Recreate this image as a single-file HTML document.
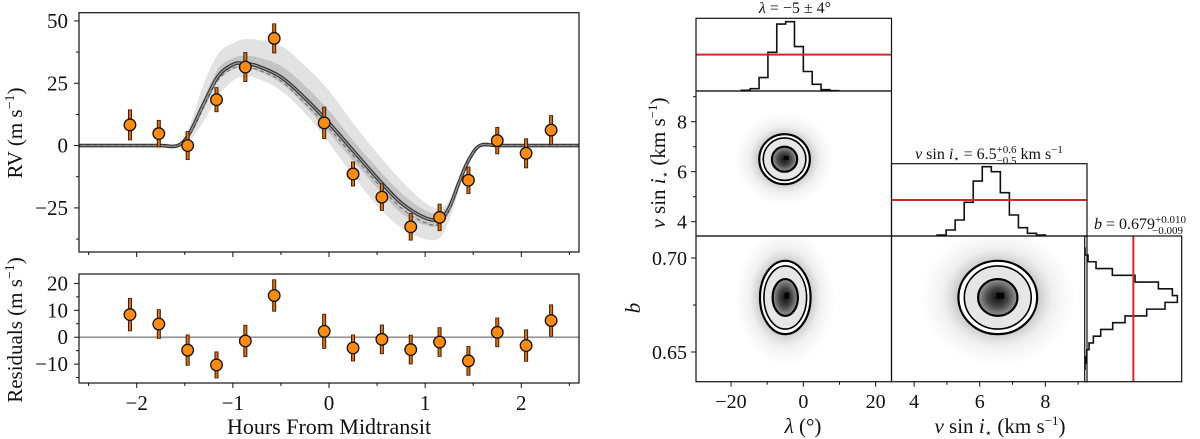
<!DOCTYPE html>
<html><head><meta charset="utf-8"><style>
body{margin:0;background:#fff}
svg{display:block;font-family:"Liberation Serif",serif}
</style></head><body>
<svg id="s" width="1200" height="439" viewBox="0 0 1200 439">
<defs>
<radialGradient id="cloud"><stop offset="0" stop-color="#333" stop-opacity="0.8"/><stop offset="0.45" stop-color="#666" stop-opacity="0.45"/><stop offset="0.7" stop-color="#999" stop-opacity="0.15"/><stop offset="1" stop-color="#bbb" stop-opacity="0"/></radialGradient>
<radialGradient id="core"><stop offset="0" stop-color="#111"/><stop offset="0.5" stop-color="#444"/><stop offset="1" stop-color="#999"/></radialGradient>
</defs>
</svg>
<script>
// ---- RV data ----
const obsHours=[-2.07,-1.77,-1.47,-1.17,-0.87,-0.57,-0.05,0.25,0.55,0.85,1.15,1.45,1.75,2.05,2.31];
const obsRV=[8.3,4.8,0,18.4,31.5,43,9.1,-11.4,-20.7,-32.6,-28.8,-13.9,2.0,-3.1,6.2];
const obsErr=[6.2,5.5,5.8,5.0,6.0,6.0,6.5,5.0,5.5,5.5,5.5,5.5,5.5,6.0,6.0];
const resid=[8.4,4.9,-4.8,-10.3,-1.4,15.5,2.2,-4.0,-0.8,-4.6,-1.8,-8.8,1.8,-3.1,6.2];
const modelH=[-2.6,-2.0,-1.75,-1.57,-1.45,-1.3,-1.15,-1.0,-0.9,-0.75,-0.5,-0.25,0,0.25,0.5,0.75,1.0,1.15,1.25,1.35,1.45,1.57,1.75,2.0,2.6];
const modelV=[0,0,0,0,5,17,28,32.5,33,32,27.5,19,9,-2,-13,-23,-29,-29.5,-25,-15,-6,0,0,0,0];
const dashV=[0,0,0,0,4.5,16,26.5,31,31.5,30.5,26,17,7,-4,-15,-25,-31,-31.5,-26,-15.5,-6,0,0,0,0];
const outerUp=[0,0,0,0,8,25,37,41,42.5,42.5,40,32,22,9,-3,-14,-23,-25,-22,-13,-5,0,0,0,0];
const outerLo=[0,0,0,0,2,10,20,26,27.5,27,22,13,1,-12,-24,-33,-37.5,-37,-30,-18,-7,0,0,0,0];
const innerUp=[0,0,0,0,6,19,31,35,36,35.5,32,24,14,2,-9,-19,-26,-27,-23,-14,-5.5,0,0,0,0];
const innerLo=[0,0,0,0,4,15,26,30.5,31,30,25,16,5,-6,-17,-27,-32,-32,-27,-16,-6.5,0,0,0,0];
const xTicks=[-2,-1,0,1,2];
const rvTicks=[-25,0,25,50];
const resTicks=[-10,0,10,20];
// ---- corner data ----
const lamEdge0=-17.15, lamBinW=2.45;
const lamCounts=[2,7,40,115,199,206,132,58,20,4,1];
const lamRef=108;
const vsEdge0=4.70, vsBinW=0.2755;
const vsCounts=[3,18,48,101,165,208,193,130,63,25,8,3];
const vsRef=108;
const bEdgeTop=0.7052, bBinW=0.0036;
const bCounts=[1,10,34,83,151,221,263,278,241,186,121,84,48,26,13,6,3,1];
const bRef=146;
const lamCenter=-5.2, vsCenter=6.5, bCenter=0.679;
const lamSig=[7.0,5.9,3.5], vsSig=[1.0,0.85,0.5], bSig=[0.0195,0.0168,0.0098];
const lamTicks=[-20,0,20], vsTicks=[4,6,8], bTicks=[0.65,0.70];

const S=document.getElementById('s');
const NS='http://www.w3.org/2000/svg';
function mk(tag,attrs,parent){const e=document.createElementNS(NS,tag);for(const k in attrs)e.setAttribute(k,attrs[k]);(parent||S).appendChild(e);return e;}
function txt(x,y,str,size,anchor,parent,rot){const e=mk('text',{x:x,y:y,'font-size':size,'text-anchor':anchor||'middle',fill:'#111'},parent);if(rot)e.setAttribute('transform','rotate(-90 '+x+' '+y+')');e.innerHTML=str;return e;}
function smooth(pts){let d='M'+pts[0][0]+','+pts[0][1];for(let i=0;i<pts.length-1;i++){const p0=pts[i-1]||pts[i],p1=pts[i],p2=pts[i+1],p3=pts[i+2]||p2;const c1=[p1[0]+(p2[0]-p0[0])/6,p1[1]+(p2[1]-p0[1])/6],c2=[p2[0]-(p3[0]-p1[0])/6,p2[1]-(p3[1]-p1[1])/6];d+='C'+c1+' '+c2+' '+p2;}return d;}

const hx=h=>79+(h+2.6)/5.2*500;
const ry=v=>12.7+(53.3-v)*2.493;
const sy=v=>274+(23.5-v)*2.69;
const lamX=v=>696+(v+29.7)*3.614;
const vsX=v=>891.5+(v-3.31)*32.8;
const vsY=v=>121.7-(v-8)*25;
const bY=v=>258-(v-0.70)*1880;

// ---- top RV panel ----
const gTop=mk('g',{});

function band(up,lo,fill,name){const a=modelH.map((h,i)=>[hx(h),ry(up[i])]);const b=modelH.map((h,i)=>[hx(h),ry(lo[i])]).reverse();const d=smooth(a)+'L'+b[0]+smooth(b).slice(1).replace(/^[^C]*/,'')+'Z';const p=mk('path',{d:d,fill:fill},gTop);}
band(outerUp,outerLo,'#e2e2e2','outer-band');
band(innerUp,innerLo,'#c4c4c4','inner-band');
const mpts=modelH.map((h,i)=>[hx(h),ry(modelV[i])]);
let ml=mk('path',{d:smooth(mpts),fill:'none',stroke:'#333','stroke-width':3.6},gTop);

mk('path',{d:smooth(mpts),fill:'none',stroke:'#999','stroke-width':1.3},gTop);
let dl=mk('path',{d:smooth(modelH.map((h,i)=>[hx(h),ry(dashV[i])])),fill:'none',stroke:'#777','stroke-width':1.2,'stroke-dasharray':'4,3'},gTop);

function points(vals,yf,g,name){vals.forEach((v,i)=>{const x=hx(obsHours[i]);mk('line',{x1:x,x2:x,y1:yf(v+obsErr[i]),y2:yf(v-obsErr[i]),stroke:'#3a1a00','stroke-width':4},g);mk('line',{x1:x,x2:x,y1:yf(v+obsErr[i])+0.8,y2:yf(v-obsErr[i])-0.8,stroke:'#e0700a','stroke-width':2},g);const c=mk('circle',{cx:x,cy:yf(v),r:5.8,fill:'#ff8c0f',stroke:'#111','stroke-width':1.3},g);});}
points(obsRV,ry,gTop,'rv-point');
mk('rect',{x:79,y:12.7,width:500,height:239.3,fill:'none',stroke:'#111','stroke-width':1.2},gTop);
function xAxis(y0,g,labels){for(let h=-2.5;h<=2.51;h+=0.5){const x=hx(h);const maj=Math.abs(h-Math.round(h))<0.01;mk('line',{x1:x,x2:x,y1:y0,y2:y0+(maj?5:3),stroke:'#111','stroke-width':1},g);}if(labels)xTicks.forEach(t=>{txt(hx(t),410,t<0?'−'+(-t):''+t,21,'middle',g);});}
xAxis(252,gTop,false);
rvTicks.forEach(t=>{const y=ry(t);mk('line',{x1:74,x2:79,y1:y,y2:y,stroke:'#111'},gTop);txt(68,y+7,t<0?'−'+(-t):''+t,21,'end',gTop);});
[-37.5,-12.5,12.5,37.5].forEach(t=>mk('line',{x1:76,x2:79,y1:ry(t),y2:ry(t),stroke:'#111'},gTop));
let yl=txt(22,133,'RV (m s<tspan dy="-8" font-size="14">−1</tspan><tspan dy="8">)</tspan>',21,'middle',gTop,true);


// ---- residual panel ----
const gRes=mk('g',{});

mk('line',{x1:79,x2:579,y1:sy(0),y2:sy(0),stroke:'#999','stroke-width':1.8},gRes);
points(resid,sy,gRes,'residual-point');
mk('rect',{x:79,y:274,width:500,height:109,fill:'none',stroke:'#111','stroke-width':1.2},gRes);
xAxis(383,gRes,true);
resTicks.forEach(t=>{const y=sy(t);mk('line',{x1:74,x2:79,y1:y,y2:y,stroke:'#111'},gRes);txt(68,y+7,t<0?'−'+(-t):''+t,21,'end',gRes);});
[-15,-5,5,15].forEach(t=>mk('line',{x1:76,x2:79,y1:sy(t),y2:sy(t),stroke:'#111'},gRes));
let rl=txt(22,330,'Residuals (m s<tspan dy="-8" font-size="14">−1</tspan><tspan dy="8">)</tspan>',21,'middle',gRes,true);

let xl=txt(329,434,'Hours From Midtransit',22,'middle',gRes);


// ---- corner plot ----
const gC=mk('g',{});

function clip(id,x,y,w,h){const c=mk('clipPath',{id:id});mk('rect',{x:x,y:y,width:w,height:h},c);}
clip('c10',696,91,195.5,145);clip('c20',696,236,195.5,145.7);clip('c21',891.5,236,195.5,145.7);
function panel2d(id,xf,yf,cx,cy,sx,syArr,name){const g=mk('g',{'clip-path':'url(#'+id+')'},gC);
 const X=xf(cx),Y=yf(cy);const rx0=Math.abs(xf(cx+sx[0])-X),ry0=Math.abs(yf(cy+syArr[0])-Y);
 mk('ellipse',{cx:X,cy:Y,rx:rx0*2.0,ry:ry0*1.9,fill:'url(#cloud)'},g);
 const fills=['#fff','#e6e6e6','url(#core)'];
 for(let k=0;k<3;k++){const rx=Math.abs(xf(cx+sx[k])-X),ryy=Math.abs(yf(cy+syArr[k])-Y);const e=mk('ellipse',{cx:X,cy:Y,rx:rx,ry:ryy,fill:fills[k],stroke:'#000','stroke-width':k==1?1.6:2.2},g);}
 const cw=Math.abs(xf(cx+sx[2]*0.3)-X),ch=Math.abs(yf(cy+syArr[2]*0.3)-Y);
 mk('rect',{x:X-cw*0.2,y:Y-ch*0.9,width:cw*1.3,height:ch*1.1,fill:'#000'},g);
}
panel2d('c10',lamX,vsY,lamCenter,vsCenter,lamSig,vsSig,'lambda-vsini-panel');
panel2d('c20',lamX,bY,lamCenter+0.2,bCenter,lamSig,bSig,'lambda-b-panel');
panel2d('c21',vsX,bY,vsCenter+0.05,bCenter,vsSig.map(v=>v*1.2),bSig,'vsini-b-panel');
function stepPath(edge0,w,counts,xf,base,scale){let d='M'+xf(edge0)+','+base;counts.forEach((c,i)=>{const y=base-c*scale;d+='L'+xf(edge0+i*w)+','+y+'L'+xf(edge0+(i+1)*w)+','+y;});d+='L'+xf(edge0+counts.length*w)+','+base;return d;}
let h1=mk('path',{d:stepPath(lamEdge0,lamBinW,lamCounts,lamX,91,73/217),fill:'none',stroke:'#111','stroke-width':1.6},gC);

mk('line',{x1:696,x2:891.5,y1:91-lamRef*73/217,y2:91-lamRef*73/217,stroke:'#d62728','stroke-width':2},gC);
mk('rect',{x:696,y:18.3,width:195.5,height:72.7,fill:'none',stroke:'#111','stroke-width':1.2},gC);
let h2=mk('path',{d:stepPath(vsEdge0,vsBinW,vsCounts,vsX,236,72.3/217),fill:'none',stroke:'#111','stroke-width':1.6},gC);

mk('line',{x1:891.5,x2:1087,y1:236-vsRef*72.3/217,y2:236-vsRef*72.3/217,stroke:'#d62728','stroke-width':2},gC);
mk('rect',{x:891.5,y:163.7,width:195.5,height:72.3,fill:'none',stroke:'#111','stroke-width':1.2},gC);
const bsc=97/291;
let d='M1084.7,'+bY(bEdgeTop);bCounts.forEach((c,i)=>{const x=1084.7+c*bsc;d+='L'+x+','+bY(bEdgeTop-i*bBinW)+'L'+x+','+bY(bEdgeTop-(i+1)*bBinW);});
clip('c3',1084.7,236,97,145.7);
const g3=mk('g',{'clip-path':'url(#c3)'},gC);
let h3=mk('path',{d:d,fill:'none',stroke:'#111','stroke-width':1.6},g3);

mk('line',{x1:1084.7+bRef*bsc,x2:1084.7+bRef*bsc,y1:236,y2:381.7,stroke:'#d62728','stroke-width':2},gC);
mk('rect',{x:1084.7,y:236,width:97,height:145.7,fill:'none',stroke:'#111','stroke-width':1.2},gC);
mk('rect',{x:696,y:91,width:195.5,height:145,fill:'none',stroke:'#111','stroke-width':1.2},gC);
mk('rect',{x:696,y:236,width:195.5,height:145.7,fill:'none',stroke:'#111','stroke-width':1.2},gC);
mk('rect',{x:891.5,y:236,width:195.5,height:145.7,fill:'none',stroke:'#111','stroke-width':1.2},gC);
const fmt=t=>t<0?'−'+(-t):''+t;
lamTicks.forEach(t=>{mk('line',{x1:lamX(t),x2:lamX(t),y1:381.7,y2:386.7,stroke:'#111'},gC);txt(lamX(t),408,fmt(t),20,'middle',gC);});
[-10,10].forEach(t=>mk('line',{x1:lamX(t),x2:lamX(t),y1:381.7,y2:384.7,stroke:'#111'},gC));
vsTicks.forEach(t=>{mk('line',{x1:vsX(t),x2:vsX(t),y1:381.7,y2:386.7,stroke:'#111'},gC);txt(vsX(t),408,fmt(t),20,'middle',gC);
 mk('line',{x1:691,x2:696,y1:vsY(t),y2:vsY(t),stroke:'#111'},gC);txt(687,vsY(t)+7,''+t,20,'end',gC);});
[5,7,9].forEach(t=>{mk('line',{x1:vsX(t),x2:vsX(t),y1:381.7,y2:384.7,stroke:'#111'},gC);mk('line',{x1:693,x2:696,y1:vsY(t),y2:vsY(t),stroke:'#111'},gC);});
bTicks.forEach(t=>{mk('line',{x1:691,x2:696,y1:bY(t),y2:bY(t),stroke:'#111'},gC);txt(687,bY(t)+7,t.toFixed(2),20,'end',gC);});
mk('line',{x1:693,x2:696,y1:bY(0.675),y2:bY(0.675),stroke:'#111'},gC);
let a1=txt(803,433,'<tspan font-style="italic">λ</tspan> (°)',21,'middle',gC);
let a2=txt(1000,433,'<tspan font-style="italic">v</tspan> sin <tspan font-style="italic">i</tspan><tspan font-size="12" dy="4">⋆</tspan><tspan dy="-4"> (km s</tspan><tspan dy="-8" font-size="13">−1</tspan><tspan dy="8">)</tspan>',21,'middle',gC);
let a3=txt(665,163,'<tspan font-style="italic">v</tspan> sin <tspan font-style="italic">i</tspan><tspan font-size="12" dy="4">⋆</tspan><tspan dy="-4"> (km s</tspan><tspan dy="-8" font-size="13">−1</tspan><tspan dy="8">)</tspan>',21,'middle',gC,true);
let a4=txt(640,308,'<tspan font-style="italic">b</tspan>',21,'middle',gC,true);
let t1=txt(795,13,'<tspan font-style="italic">λ</tspan> = −5 ± 4°',16,'middle',gC);
let t2=txt(989,159,'<tspan font-style="italic">v</tspan> sin <tspan font-style="italic">i</tspan><tspan font-size="10" dy="3">⋆</tspan><tspan dy="-3"> = 6.5</tspan><tspan font-size="11" dy="-6">+0.6</tspan><tspan font-size="11" dx="-20" dy="11">−0.5</tspan><tspan dy="-5"> km s</tspan><tspan font-size="11" dy="-6">−1</tspan>',16,'middle',gC);
let t3=txt(1094,229,'<tspan font-style="italic">b</tspan> = 0.679<tspan font-size="11" dy="-6">+0.010</tspan><tspan font-size="11" dx="-34" dy="11">−0.009</tspan>',16,'start',gC);
</script>
</body></html>
